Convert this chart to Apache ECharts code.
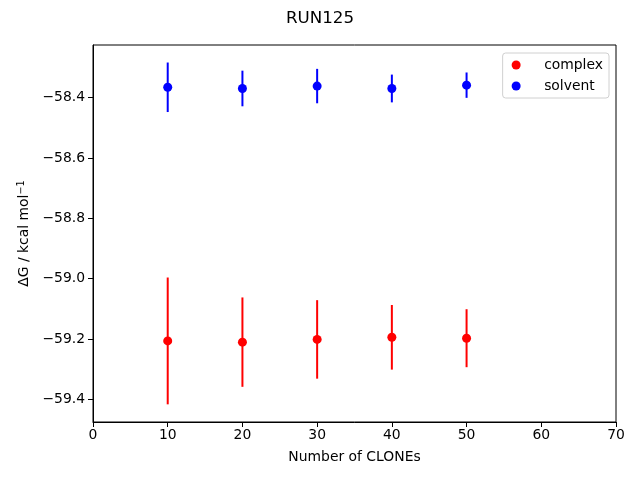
<!DOCTYPE html>
<html>
<head>
<meta charset="utf-8">
<script src="https://cdn.jsdelivr.net/npm/echarts@6/dist/echarts.min.js"></script>
<style>html,body{margin:0;padding:0;background:#fff}#c{width:640px;height:480px}</style>
</head>
<body>
<div id="c"></div>
<script>
const clones = [10, 20, 30, 40, 50];
const complexMean = [-59.206, -59.210, -59.201, -59.194, -59.197];
const complexErr = [0.210, 0.148, 0.130, 0.107, 0.096];
const solventMean = [-58.366, -58.370, -58.362, -58.370, -58.359];
const solventErr = [0.082, 0.059, 0.057, 0.046, 0.042];
const yTicks = [-59.4, -59.2, -59.0, -58.8, -58.6, -58.4];
const xTicks = [0, 10, 20, 30, 40, 50, 60, 70];

const font = 'DejaVu Sans';
const fmtMinus = v => (v < 0 ? '\u2212' : '') + Math.abs(v).toFixed(1);

function errData(mean, err) {
  return clones.map((x, i) => [x, mean[i] - err[i], mean[i] + err[i]]);
}
function errSeries(name, mean, err, color) {
  return {
    type: 'custom',
    name: name,
    data: errData(mean, err),
    z: 1,
    silent: true,
    renderItem: function (params, api) {
      const lo = api.coord([api.value(0), api.value(1)]);
      const hi = api.coord([api.value(0), api.value(2)]);
      return {
        type: 'line',
        shape: { x1: lo[0], y1: lo[1], x2: hi[0], y2: hi[1] },
        style: { stroke: color, lineWidth: 2 }
      };
    },
    encode: { x: 0, y: [1, 2] }
  };
}

const chart = echarts.init(document.getElementById('c'), null, { renderer: 'canvas' });
chart.setOption({
  animation: false,
  backgroundColor: '#fff',
  title: {
    text: 'RUN125', left: 'center', top: 5,
    textStyle: { fontFamily: font, fontSize: 16.7, fontWeight: 'normal', color: '#000' }
  },
  legend: {
    data: ['complex', 'solvent'],
    orient: 'vertical',
    right: 31, top: 53,
    icon: 'circle',
    itemWidth: 20, itemHeight: 9, itemGap: 7,
    padding: [5, 6, 5, 9],
    borderColor: '#d0d0d0', borderWidth: 1, borderRadius: 3,
    backgroundColor: '#fff',
    textStyle: { fontFamily: font, fontSize: 13.9, color: '#000', lineHeight: 14, padding: [0, 0, 0, 13] }
  },
  grid: { left: 93, right: 24, top: 45, bottom: 58, show: true, borderColor: '#000', borderWidth: 1, backgroundColor: 'transparent' },
  xAxis: {
    type: 'value', min: 0, max: 70, interval: 10,
    name: 'Number of CLONEs', nameLocation: 'middle', nameGap: 28,
    nameTextStyle: { fontFamily: font, fontSize: 13.9, color: '#000' },
    axisLine: { show: true, lineStyle: { color: '#000', width: 1 } },
    axisTick: { show: true, length: 5, lineStyle: { color: '#000' } },
    axisLabel: { fontFamily: font, fontSize: 13.9, color: '#000', margin: 6, customValues: xTicks },
    splitLine: { show: false }
  },
  yAxis: {
    type: 'value', min: -59.4745, max: -58.226,
    name: 'ΔG / kcal mol{sup|\u22121}', nameLocation: 'middle', nameGap: 61, nameRotate: 90,
    nameTextStyle: {
      fontFamily: font, fontSize: 13.9, color: '#000',
      rich: { sup: { fontFamily: font, fontSize: 9.7, color: '#000', verticalAlign: 'top', padding: [0, 0, 6, 0] } }
    },
    axisLine: { show: true, lineStyle: { color: '#000', width: 1 } },
    axisTick: { show: true, length: 5, lineStyle: { color: '#000' }, customValues: yTicks },
    axisLabel: { fontFamily: font, fontSize: 13.9, color: '#000', margin: 8, customValues: yTicks, formatter: fmtMinus },
    splitLine: { show: false }
  },
  series: [
    errSeries('complexErr', complexMean, complexErr, '#ff0000'),
    errSeries('solventErr', solventMean, solventErr, '#0000ff'),
    {
      type: 'scatter', name: 'complex', z: 2,
      data: clones.map((x, i) => [x, complexMean[i]]),
      symbol: 'circle', symbolSize: 9,
      itemStyle: { color: '#ff0000', opacity: 1 }
    },
    {
      type: 'scatter', name: 'solvent', z: 2,
      data: clones.map((x, i) => [x, solventMean[i]]),
      symbol: 'circle', symbolSize: 9,
      itemStyle: { color: '#0000ff', opacity: 1 }
    }
  ]
});
</script>
</body>
</html>
